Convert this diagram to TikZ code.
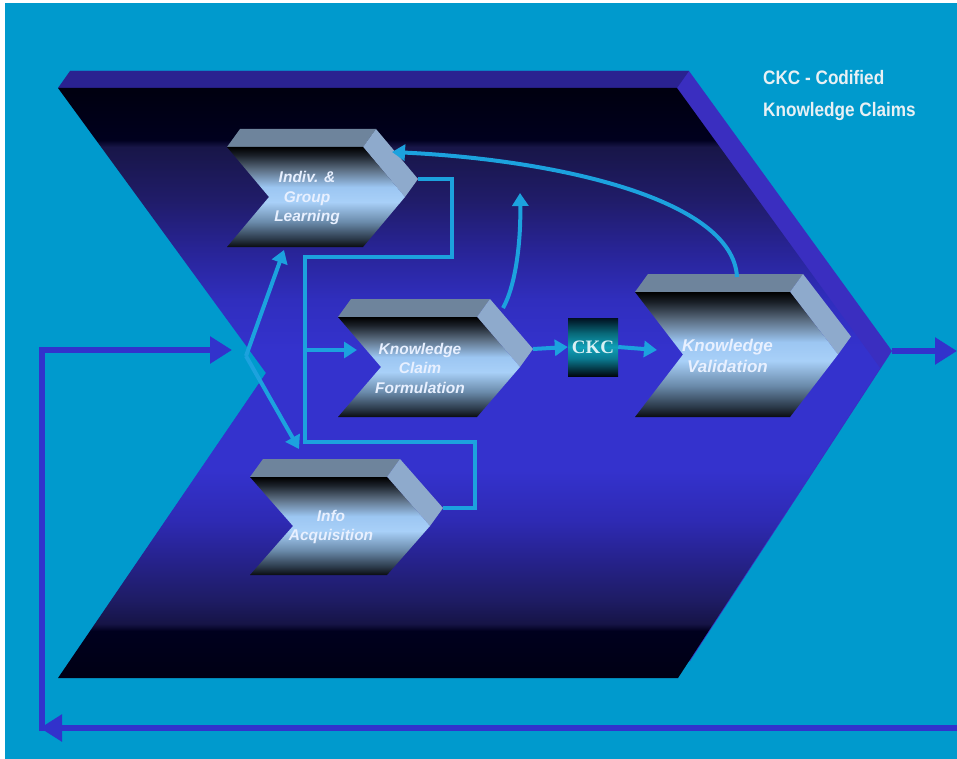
\documentclass[tikz,border=0pt]{standalone}
\usepackage{fontspec}
\setmainfont{Liberation Sans}
\newfontfamily\ckcserif{Liberation Serif}
\newfontfamily\legendfont{Liberation Sans}[FakeStretch=0.88]
\usetikzlibrary{arrows.meta}

\definecolor{bg}{RGB}{0,154,205}
\definecolor{bigtop}{RGB}{42,34,144}
\definecolor{bigside}{RGB}{58,46,192}
\definecolor{outblue}{RGB}{50,50,204}
\definecolor{linkblue}{RGB}{28,162,222}
\definecolor{chevtop}{RGB}{110,132,156}
\definecolor{chevside}{RGB}{142,170,204}
\definecolor{chevtxt}{RGB}{232,240,255}
\definecolor{legtxt}{RGB}{232,240,244}
\definecolor{ckctxt}{RGB}{216,240,244}

% big chevron face colours
\definecolor{bfa}{RGB}{0,0,20}
\definecolor{bfb}{RGB}{0,0,30}
\definecolor{bfc}{RGB}{22,20,70}
\definecolor{bfd}{RGB}{30,28,100}
\definecolor{bfe}{RGB}{38,34,140}
\definecolor{bff}{RGB}{46,42,180}
\definecolor{bfg}{RGB}{52,50,205}
\definecolor{bfh}{RGB}{48,46,190}
\definecolor{bfi}{RGB}{40,36,150}
\definecolor{bfj}{RGB}{32,28,105}
\definecolor{bfk}{RGB}{24,22,72}
\definecolor{bfl}{RGB}{0,0,15}
\pgfdeclareverticalshading{bigface}{100bp}{color(0bp)=(bfa); color(25bp)=(bfa); color(29bp)=(bfb); color(29.6bp)=(bfc); color(31.6bp)=(bfd); color(35bp)=(bfe); color(38.4bp)=(bff); color(42.6bp)=(bfg); color(52.8bp)=(bfg); color(57bp)=(bfh); color(61.3bp)=(bfi); color(65.5bp)=(bfj); color(70bp)=(bfk); color(70.6bp)=(bfb); color(75bp)=(bfl); color(100bp)=(bfl)}

% inner chevron front colours
\definecolor{cfa}{RGB}{10,12,16}
\definecolor{cfb}{RGB}{42,56,72}
\definecolor{cfc}{RGB}{106,138,170}
\definecolor{cfd}{RGB}{168,208,248}
\definecolor{cfe}{RGB}{156,198,242}
\definecolor{cff}{RGB}{90,108,128}
\definecolor{cfg}{RGB}{26,32,40}
\definecolor{cfh}{RGB}{0,0,0}
\pgfdeclareverticalshading{chevface}{100bp}{color(0bp)=(cfa); color(25bp)=(cfa); color(29bp)=(cfb); color(37.5bp)=(cfc); color(47.5bp)=(cfd); color(55bp)=(cfe); color(64bp)=(cff); color(71bp)=(cfg); color(75bp)=(cfh); color(100bp)=(cfh)}

% CKC box colours
\definecolor{cka}{RGB}{0,8,16}
\definecolor{ckb}{RGB}{10,122,144}
\definecolor{ckc}{RGB}{16,160,184}
\definecolor{ckd}{RGB}{8,104,120}
\definecolor{cke}{RGB}{0,16,32}
\pgfdeclareverticalshading{ckcface}{100bp}{color(0bp)=(cka); color(25bp)=(cka); color(40bp)=(ckb); color(50bp)=(ckc); color(62bp)=(ckd); color(75bp)=(cke); color(100bp)=(cke)}

\tikzset{
  inarrow/.style={draw=linkblue, line width=4pt, -{Triangle[length=13pt,width=16pt]}},
  inline/.style={draw=linkblue, line width=4pt, line join=miter},
  outarrow/.style={draw=outblue, line width=6.5pt, line join=miter, -{Triangle[length=22pt,width=26pt]}},
  chevtext/.style={text=chevtxt, align=center, inner sep=0pt, font=\bfseries\itshape\fontsize{15.5}{19.5}\selectfont},
  chevtextL/.style={chevtext, font=\bfseries\itshape\fontsize{17}{21}\selectfont},
  ckcbox/.style={shade, shading=ckcface, minimum width=50pt, minimum height=58pt, inner sep=0pt, text=ckctxt, font=\ckcserif\bfseries\fontsize{19}{19}\selectfont},
  legend/.style={text=legtxt, inner sep=0pt, anchor=base west, font=\legendfont\bfseries\fontsize{19.5}{20}\selectfont}
}

% #1 name, #2 x, #3 y (front top-left), #4 width, #5 height, #6 depth, #7 text style, #8 text
\newcommand\kchev[8]{%
  \fill[chevtop] (#2,#3) -- ++(13,-18) -- ++(#4,0) -- ++(-13,18) -- cycle;
  \fill[chevside] (#2+#4,#3) -- ++(13,-18) -- ++(#6,#5/2) -- ++(-13,18) -- cycle;
  \shade[shading=chevface] (#2,#3) -- ++(#4,0) -- ++(#6,#5/2) -- ++(-#6,#5/2) -- ++(-#4,0) -- ++(#6,-#5/2) -- cycle;
  \node[#7] (#1) at (#2+#4/2+#6/2-9, #3+#5/2+1) {#8};
  \coordinate (#1tip) at (#2+#4+#6+13, #3+#5/2-18);
}

\begin{document}
\begin{tikzpicture}[x=1pt, y=-1pt]
\useasboundingbox (0,0) rectangle (957,759);
\fill[white] (0,0) rectangle (957,759);
\fill[bg] (5,3) rectangle (957,759);

% big chevron
\fill[bigside] (70,71) -- (689,71) -- (892,351) -- (690,661) -- (70,661) -- (278,356) -- cycle;
\fill[bigtop] (58,88) -- (70,71) -- (689,71) -- (677,88) -- cycle;
\shade[shading=bigface] (58,88) -- (677,88) -- (880,368) -- (678,678) -- (58,678) -- (266,373) -- cycle;
\coordinate (bigtip) at (892,351);

% inner chevrons
\kchev{igl}{227}{147}{136}{100}{42}{chevtext}{Indiv. \&\\Group\\Learning}
\kchev{kcf}{338}{317}{139}{100}{43}{chevtext}{Knowledge\\Claim\\Formulation}
\kchev{kv}{635}{292}{155}{125}{48}{chevtextL}{Knowledge\\Validation}
\kchev{ia}{250}{477}{137}{98}{43}{chevtext}{Info\\Acquisition}

% CKC box
\node[ckcbox] (ckc) at (593,347) {CKC};

% legend
\node[legend] (leg1) at (763,85) {CKC - Codified};
\node[legend] (leg2) at (763,117) {Knowledge Claims};

% inner connectors
\coordinate (cross) at (246,356);
\coordinate (iglin) at (284,250);
\coordinate (iain) at (299,449);
\coordinate (kcfsrc) at (305,350);
\coordinate (kcfin) at (357,350);
\coordinate (la) at (452,179);
\coordinate (lb) at (452,257);
\coordinate (lc) at (305,257);
\coordinate (ld) at (305,442);
\coordinate (le) at (475,442);
\coordinate (lf) at (475,508);
\coordinate (kcfup) at (503,308);
\coordinate (kcfupend) at (520,193);
\coordinate (kvtop) at (737,277);
\coordinate (iglback) at (392,152);
\coordinate (kvin) at (657,350);

\draw[inline] (igltip) -- (la) -- (lb) -- (lc) -- (ld) -- (le) -- (lf) -- (iatip);
\draw[inarrow] (cross) -- (iglin);
\draw[inarrow] (cross) -- (iain);
\draw[inarrow] (kcfsrc) -- (kcfin);
\draw[inarrow] (kcftip) -- (ckc.west);
\draw[inarrow] (ckc.east) -- (kvin);
\draw[inarrow] (kcfup) .. controls (516,285) and (521,240) .. (kcfupend);
\draw[inarrow] (kvtop) .. controls (733,200) and (560,160) .. (iglback);

% outer loop
\coordinate (rightend) at (957,351);
\coordinate (bottomstart) at (957,728);
\coordinate (corner) at (40,728);
\coordinate (loopstart) at (42,731);
\coordinate (inend) at (232,350);
\draw[outarrow] (bigtip) -- (rightend);
\draw[outarrow] (bottomstart) -- (corner);
\draw[outarrow] (loopstart) |- (inend);
\end{tikzpicture}
\end{document}
